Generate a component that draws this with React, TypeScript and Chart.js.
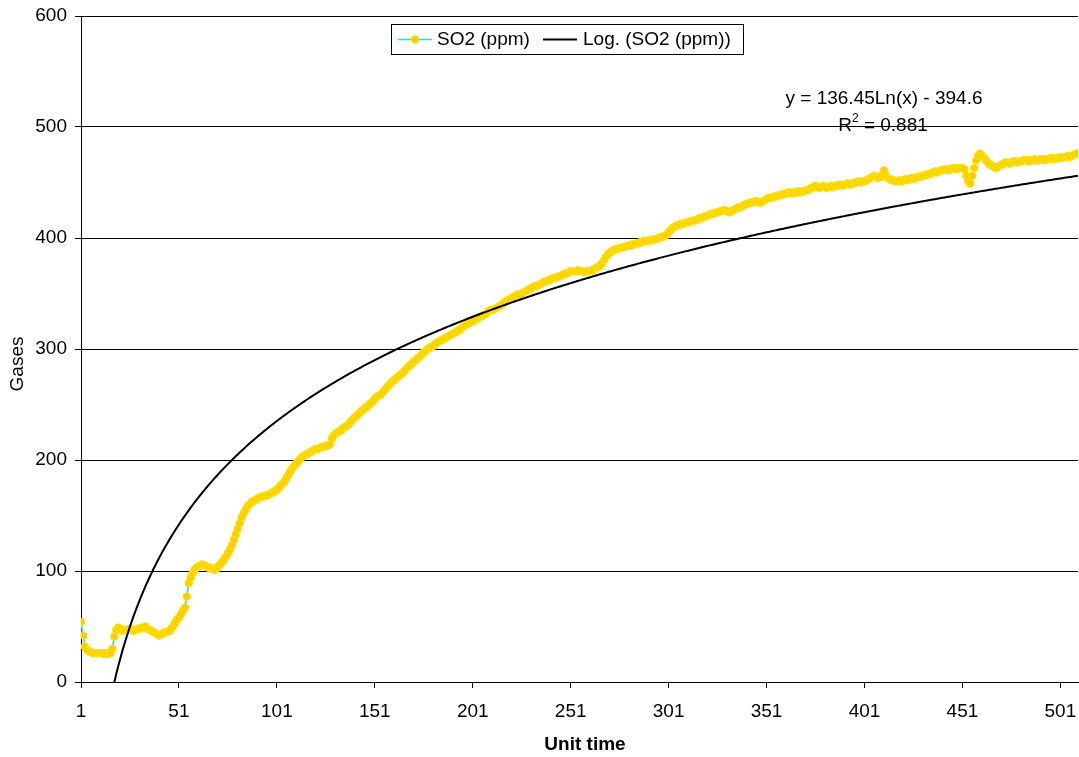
import React, { useEffect, useRef } from "react";
import { Chart, registerables } from "chart.js";

Chart.register(...registerables);

const so2: number[] = [
  54, 42, 32, 29, 28, 27, 26, 26, 26, 26,
  26, 26, 25, 26, 25, 26, 30, 41, 47, 49,
  48, 46, 47, 47, 47, 48, 47, 46, 47, 48,
  48, 49, 49, 50, 48, 47, 46, 45, 44, 43,
  42, 43, 44, 45, 45, 46, 48, 50, 53, 56,
  58, 61, 64, 67, 77, 89, 94, 98, 101, 103,
  104, 105, 106, 105, 104, 103, 103, 102, 101, 102,
  104, 106, 108, 110, 113, 116, 119, 123, 128, 133,
  138, 143, 148, 152, 155, 158, 160, 162, 163, 164,
  165, 166, 167, 167, 168, 168, 169, 170, 171, 172,
  173, 175, 177, 179, 181, 184, 187, 190, 193, 195,
  197, 199, 201, 203, 204, 205, 206, 207, 208, 209,
  210, 210, 211, 212, 212, 213, 213, 214, 219, 222,
  224, 225, 226, 227, 229, 230, 231, 233, 235, 237,
  239, 240, 242, 244, 245, 247, 248, 250, 251, 253,
  255, 257, 258, 259, 261, 263, 265, 267, 269, 271,
  272, 274, 275, 277, 278, 280, 282, 284, 285, 287,
  289, 290, 292, 293, 295, 297, 298, 300, 301, 302,
  303, 305, 306, 307, 308, 309, 310, 311, 312, 313,
  314, 315, 316, 317, 318, 320, 321, 322, 323, 324,
  325, 326, 327, 328, 329, 330, 331, 332, 334, 335,
  335, 336, 337, 338, 339, 340, 342, 343, 344, 345,
  346, 347, 348, 349, 349, 350, 351, 352, 353, 354,
  355, 356, 357, 357, 358, 359, 360, 361, 361, 362,
  363, 364, 364, 365, 365, 366, 367, 368, 368, 369,
  370, 370, 370, 370, 371, 370, 370, 369, 370, 370,
  370, 371, 372, 373, 374, 375, 377, 380, 383, 385,
  387, 388, 389, 390, 390, 391, 391, 392, 392, 393,
  393, 394, 394, 395, 395, 396, 396, 397, 397, 397,
  398, 398, 398, 399, 399, 400, 401, 401, 402, 403,
  405, 407, 409, 410, 411, 412, 412, 413, 413, 414,
  414, 415, 415, 416, 416, 417, 418, 418, 419, 420,
  420, 421, 422, 422, 423, 423, 424, 424, 425, 425,
  424, 423, 424, 425, 426, 427, 428, 428, 429, 430,
  431, 431, 432, 432, 433, 433, 432, 432, 433, 434,
  435, 436, 436, 437, 437, 438, 438, 439, 439, 440,
  440, 441, 441, 440, 441, 441, 442, 441, 442, 442,
  443, 443, 444, 445, 446, 447, 446, 445, 446, 447,
  446, 445, 446, 447, 446, 447, 447, 448, 448, 447,
  448, 449, 449, 448, 449, 450, 450, 451, 450, 451,
  451, 452, 453, 454, 455, 456, 455, 454, 455, 457,
  461, 456, 454, 453, 452, 452, 451, 451, 452, 451,
  452, 453, 452, 453, 454, 453, 454, 455, 455, 456,
  456, 457, 457, 458, 458, 459, 460, 459, 460, 461,
  461, 462, 462, 461, 462, 463, 463, 462, 463, 463,
  463, 462, 456, 451, 449, 456, 463, 470, 474, 476,
  474, 472, 470, 468, 466, 465, 464, 463, 464, 465,
  466, 467, 468, 468, 467, 468, 469, 469, 468, 469,
  469, 470, 470, 470, 469, 470, 470, 471, 470, 470,
  471, 471, 470, 471, 471, 472, 472, 471, 472, 472,
  473, 472, 473, 473, 474, 473, 474, 475, 476, 476,
];

const xTicks: number[] = [1, 51, 101, 151, 201, 251, 301, 351, 401, 451, 501];
const yTicks: number[] = [0, 100, 200, 300, 400, 500, 600];

const trendSlope = 136.45;
const trendIntercept = -394.6;
const rSquared = "0.881";

const seriesLabel = "SO2 (ppm)";
const trendLabel = "Log. (SO2 (ppm))";
const xTitle = "Unit time";
const yTitle = "Gases";

const FONT = "'Liberation Sans', Arial, sans-serif";
const FS = 19;
const MARK_FILL = "#FFCC00";
const MARK_RIM = "#FFE400";

export default function App() {
  const ref = useRef<HTMLCanvasElement | null>(null);

  useEffect(() => {
    if (!ref.current) return;
    const n = so2.length;
    const pts = so2.map((v, i) => ({ x: i + 1, y: v }));
    const root = Math.exp(-trendIntercept / trendSlope);
    const trend: { x: number; y: number }[] = [{ x: root, y: 0 }];
    for (let x = Math.ceil(root); x <= n; x++) {
      trend.push({ x, y: trendSlope * Math.log(x) + trendIntercept });
    }

    const overlay = {
      id: "overlay",
      afterDraw(chart: any) {
        const ctx = chart.ctx as CanvasRenderingContext2D;
        ctx.save();
        // legend box
        ctx.fillStyle = "#fff";
        ctx.fillRect(391, 24, 352, 30);
        ctx.strokeStyle = "#000";
        ctx.lineWidth = 1;
        ctx.strokeRect(391.5, 24.5, 352, 30);
        const ly = 39.5;
        ctx.strokeStyle = "#00E8FF";
        ctx.lineWidth = 1.5;
        ctx.beginPath();
        ctx.moveTo(398, ly);
        ctx.lineTo(432, ly);
        ctx.stroke();
        ctx.lineWidth = 1;
        ctx.beginPath();
        ctx.arc(415, ly, 3.8, 0, Math.PI * 2);
        ctx.fillStyle = MARK_FILL;
        ctx.fill();
        ctx.strokeStyle = MARK_RIM;
        ctx.stroke();
        ctx.strokeStyle = "#000";
        ctx.lineWidth = 2;
        ctx.beginPath();
        ctx.moveTo(543, ly);
        ctx.lineTo(577, ly);
        ctx.stroke();
        ctx.fillStyle = "#000";
        ctx.font = `${FS}px ${FONT}`;
        ctx.textBaseline = "middle";
        ctx.textAlign = "left";
        ctx.fillText(seriesLabel, 437, ly);
        ctx.fillText(trendLabel, 583, ly);

        // equation
        ctx.textAlign = "center";
        const eq = `y = ${trendSlope}Ln(x) - ${Math.abs(trendIntercept)}`;
        ctx.fillText(eq, 884, 99);
        const a = "R";
        const sup = "2";
        const b = ` = ${rSquared}`;
        ctx.textAlign = "left";
        const wa = ctx.measureText(a).width;
        const wb = ctx.measureText(b).width;
        ctx.font = `${Math.round(FS * 0.62)}px ${FONT}`;
        const ws = ctx.measureText(sup).width;
        const total = wa + ws + wb;
        const x0 = 883 - total / 2;
        ctx.font = `${FS}px ${FONT}`;
        ctx.fillText(a, x0, 126);
        ctx.font = `${Math.round(FS * 0.62)}px ${FONT}`;
        ctx.fillText(sup, x0 + wa, 119);
        ctx.font = `${FS}px ${FONT}`;
        ctx.fillText(b, x0 + wa + ws, 126);

        // axis titles
        ctx.textAlign = "center";
        ctx.font = `bold ${FS}px ${FONT}`;
        ctx.fillText(xTitle, 585, 745);
        ctx.font = `${FS}px ${FONT}`;
        ctx.translate(18, 364);
        ctx.rotate(-Math.PI / 2);
        ctx.fillText(yTitle, 0, 0);
        ctx.restore();
      },
    };

    const chart = new Chart(ref.current, {
      type: "line",
      data: {
        datasets: [
          {
            label: trendLabel,
            data: trend,
            borderColor: "#000",
            borderWidth: 2,
            pointRadius: 0,
            fill: false,
            tension: 0,
            order: 0,
          },
          {
            label: seriesLabel,
            data: pts,
            borderColor: "#00E8FF",
            borderWidth: 1.5,
            pointRadius: 3.8,
            pointBorderWidth: 1,
            pointBackgroundColor: MARK_FILL,
            pointBorderColor: MARK_RIM,
            fill: false,
            tension: 0,
            order: 1,
          },
        ],
      },
      options: {
        animation: false,
        responsive: false,
        maintainAspectRatio: false,
        layout: { autoPadding: false, padding: { top: 16, right: 1, left: 0, bottom: 0 } },
        plugins: {
          legend: { display: false },
          tooltip: { enabled: false },
        },
        scales: {
          x: {
            type: "linear",
            min: 1,
            max: n,
            afterBuildTicks: (s: any) => {
              s.ticks = xTicks.map((v) => ({ value: v }));
            },
            afterFit: (s: any) => {
              s.height = 75;
              s.paddingLeft = 0;
              s.paddingRight = 0;
            },
            grid: {
              drawOnChartArea: false,
              drawTicks: true,
              tickLength: 6,
              color: "#000",
            },
            border: { color: "#000", width: 1 },
            ticks: {
              color: "#000",
              font: { family: FONT, size: FS },
              padding: 12,
              maxRotation: 0,
              autoSkip: false,
              callback: (v: any) => String(v),
            },
            title: { display: false },
          },
          y: {
            type: "linear",
            min: 0,
            max: 600,
            afterBuildTicks: (s: any) => {
              s.ticks = yTicks.map((v) => ({ value: v }));
            },
            afterFit: (s: any) => {
              s.width = 81;
              s.paddingTop = 0;
              s.paddingBottom = 0;
            },
            grid: {
              color: "#000",
              lineWidth: 1,
              drawTicks: true,
              tickLength: 6,
            },
            border: { color: "#000", width: 1 },
            ticks: {
              color: "#000",
              font: { family: FONT, size: FS },
              padding: 8,
            },
            title: { display: false },
          },
        },
      },
      plugins: [overlay],
    } as any);

    return () => chart.destroy();
  }, []);

  return (
    <div style={{ position: "absolute", left: 0, top: 0, width: 1079, height: 757, background: "#fff" }}>
      <canvas ref={ref} width={1079} height={757} style={{ width: 1079, height: 757, display: "block" }} />
    </div>
  );
}
